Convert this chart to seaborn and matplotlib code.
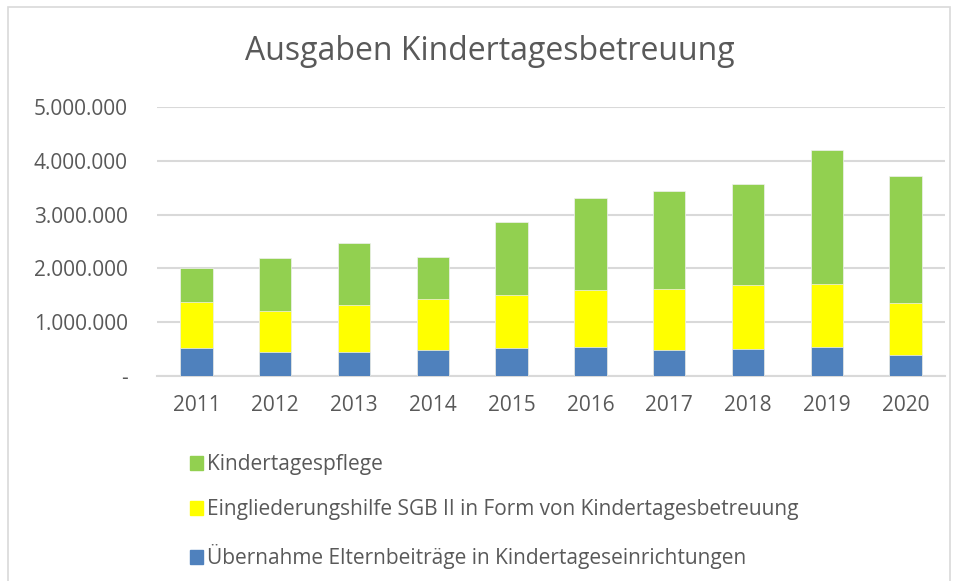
import matplotlib
matplotlib.use("Agg")
import matplotlib.pyplot as plt
import matplotlib.patches as mpatches
import numpy as np
import pandas as pd
import seaborn as sns

years = ["2011", "2012", "2013", "2014", "2015", "2016", "2017", "2018", "2019", "2020"]
elternbeitraege = [525000, 450000, 438000, 475000, 512000, 543000, 475000, 500000, 531000, 395000]
eingliederungshilfe = [858000, 766000, 877000, 963000, 994000, 1062000, 1142000, 1191000, 1185000, 963000]
kindertagespflege = [629000, 974000, 1160000, 766000, 1364000, 1697000, 1821000, 1883000, 2482000, 2352000]

labels = ["Übernahme Elternbeiträge in Kindertageseinrichtungen",
          "Eingliederungshilfe SGB II in Form von Kindertagesbetreuung",
          "Kindertagespflege"]
colors = ["#4F81BD", "#FFFF00", "#92D050"]

df = pd.DataFrame({"Jahr": years,
                   "blue": elternbeitraege,
                   "yellow": eingliederungshilfe,
                   "green": kindertagespflege})
df["c1"] = df["blue"]
df["c2"] = df["c1"] + df["yellow"]
df["c3"] = df["c2"] + df["green"]

sns.set_theme(style="white")
plt.rcParams["font.family"] = ["Open Sans", "DejaVu Sans"]
text_color = "#595959"

fig = plt.figure(figsize=(9.59, 5.81), dpi=100)
ax = fig.add_axes([157 / 959, 1 - 376 / 581, 788 / 959, 269 / 581])

# draw cumulative totals from top to bottom so the segments stack
for col, color in zip(["c3", "c2", "c1"], colors[::-1]):
    sns.barplot(data=df, x="Jahr", y=col, color=color, width=0.41, ax=ax,
                edgecolor="#F0F0F0", linewidth=0.5, saturation=1, zorder=3)

ax.set_ylim(0, 5000000)
ax.set_yticks(np.arange(0, 5000001, 1000000))
ax.set_yticklabels(["-", "1.000.000", "2.000.000", "3.000.000", "4.000.000", "5.000.000"])
ax.yaxis.grid(True, color="#D9D9D9", linewidth=1.5, zorder=0)
ax.set_axisbelow(True)
for s in ["top", "right", "left"]:
    ax.spines[s].set_visible(False)
ax.spines["bottom"].set_color("#D9D9D9")
ax.spines["bottom"].set_linewidth(1.5)
ax.set_xlabel("")
ax.set_ylabel("")
ax.tick_params(axis="both", length=0, colors=text_color, labelsize=15)
ax.tick_params(axis="x", pad=14)
ax.tick_params(axis="y", pad=21)

fig.text(490 / 959, 1 - 52 / 581, "Ausgaben Kindertagesbetreuung", ha="center", va="center",
         fontsize=23, color=text_color)

handles = [mpatches.Patch(color=c, label=l) for c, l in zip(colors[::-1], labels[::-1])]
fig.legend(handles=handles, loc="upper left", bbox_to_anchor=(182 / 959, 1 - 446 / 581),
           frameon=False, fontsize=15, labelcolor=text_color, handlelength=0.6,
           handleheight=0.6, handletextpad=0.2, labelspacing=1.15, borderaxespad=0)

fig.patches.append(mpatches.Rectangle((8 / 959, -0.1), 942 / 959, 1 - 7 / 581 + 0.1,
                                      transform=fig.transFigure, fill=False,
                                      edgecolor="#D9D9D9", linewidth=1.2))

fig.savefig("out.png", dpi=100)
